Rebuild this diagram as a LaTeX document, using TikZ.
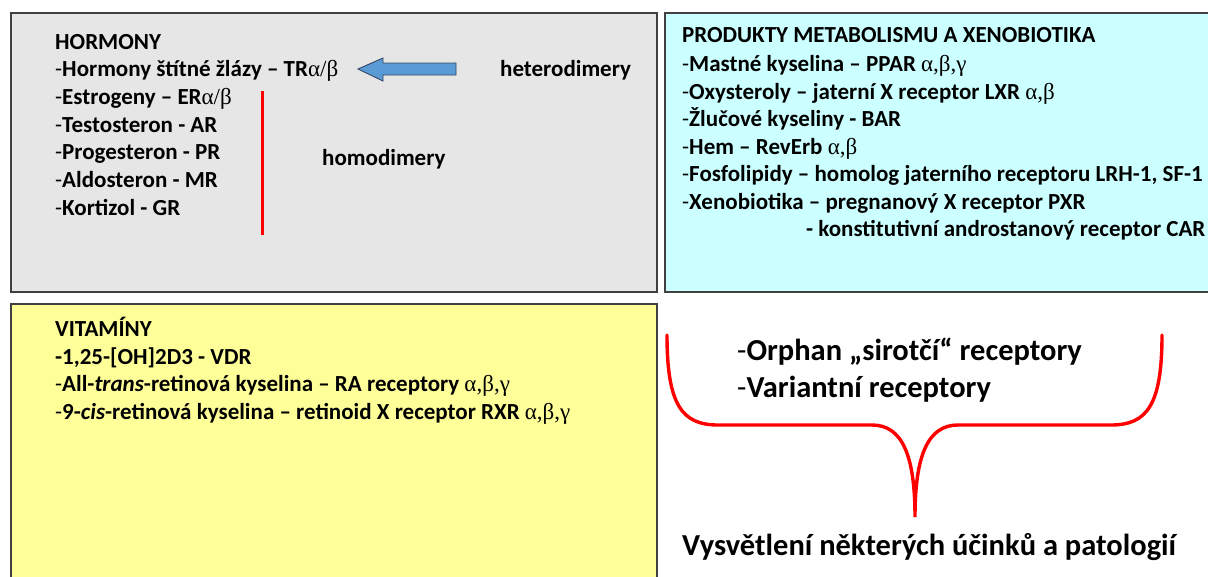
\documentclass[tikz,border=0pt]{standalone}
\usepackage{fontspec}
\setmainfont{Carlito}
\newfontfamily\greekfont{Liberation Serif}
\newcommand{\gr}[1]{{\greekfont\mdseries #1}}
\newcommand{\itemhy}{\textmd{-}}

\definecolor{hormgray}{RGB}{230,230,230}
\definecolor{metacyan}{RGB}{204,255,255}
\definecolor{vityellow}{RGB}{255,255,153}
\definecolor{arrowblue}{RGB}{91,155,213}
\definecolor{arrowedge}{RGB}{50,70,100}

\tikzset{
  txt/.style={anchor=base west, inner sep=0pt, font=\fontsize{23}{27}\selectfont\bfseries},
  bigtxt/.style={anchor=base west, inner sep=0pt, font=\fontsize{30.5}{35}\selectfont\bfseries},
  panel/.style={draw=black!75, line width=1.3pt},
  redline/.style={draw=red, line width=3pt},
}

\begin{document}
\begin{tikzpicture}[x=1pt, y=-1pt]
    \useasboundingbox (0,0) rectangle (1208,576);

    % Panels
    \filldraw[panel, fill=hormgray] (11,13) rectangle (657,292);
    \filldraw[panel, fill=metacyan] (665,13) rectangle (1214,292);
    \filldraw[panel, fill=vityellow] (11,304) rectangle (657,582);

    % Hormony
    \node[txt] (horm) at (55,49) {HORMONY};
    \node[txt] (tr) at (55,76.7) {\itemhy Hormony štítné žlázy – TR\gr{α/β}};
    \node[txt] (er) at (55,104.3) {\itemhy Estrogeny – ER\gr{α/β}};
    \node[txt] (ar) at (55,132) {\itemhy Testosteron - AR};
    \node[txt] (pr) at (55,159.7) {\itemhy Progesteron - PR};
    \node[txt] (mr) at (55,187.3) {\itemhy Aldosteron - MR};
    \node[txt] (gr) at (55,215) {\itemhy Kortizol - GR};

    \node[txt] (hetero) at (500,76) {heterodimery};
    \node[txt] (homo) at (322,165.7) {homodimery};

    \filldraw[fill=arrowblue, draw=arrowedge, line width=0.9pt]
        (358,69) -- (383,58) -- (383,63) -- (456,63) -- (456,75)
        -- (383,75) -- (383,81) -- cycle;

    \coordinate (homotop) at (262,91);
    \coordinate (homobot) at (262,235);
    \draw[redline] (homotop) -- (homobot);

    % Produkty metabolismu
    \node[txt] (meta) at (682,42.7) {PRODUKTY METABOLISMU A XENOBIOTIKA};
    \node[txt] (ppar) at (682,71) {\itemhy Mastné kyselina – PPAR \gr{α,β,γ}};
    \node[txt] (lxr) at (682,99) {\itemhy Oxysteroly – jaterní X receptor LXR \gr{α,β}};
    \node[txt] (bar) at (682,126.7) {\itemhy Žlučové kyseliny - BAR};
    \node[txt] (reverb) at (682,154) {\itemhy Hem – RevErb \gr{α,β}};
    \node[txt] (lrh) at (682,181.7) {\itemhy Fosfolipidy – homolog jaterního receptoru LRH-1, SF-1};
    \node[txt] (pxr) at (682,209.3) {\itemhy Xenobiotika – pregnanový X receptor PXR};
    \node[txt] (car) at (806,236.7) {- konstitutivní androstanový receptor CAR};

    % Vitaminy
    \node[txt] (vit) at (55,336.7) {VITAMÍNY};
    \node[txt] (vdr) at (55,364) {-1,25-[OH]2D3 - VDR};
    \node[txt] (rar) at (55,391.7) {\itemhy All-\textit{trans}-retinová kyselina – RA receptory \gr{α,β,γ}};
    \node[txt] (rxr) at (55,419.3) {\itemhy 9-\textit{cis}-retinová kyselina – retinoid X receptor RXR \gr{α,β,γ}};

    % Orphan receptory
    \node[bigtxt] (orphan) at (737,360.7) {\itemhy Orphan „sirotčí“ receptory};
    \node[bigtxt] (variant) at (737,397.3) {\itemhy Variantní receptory};
    \node[bigtxt] (vysv) at (682,555.7) {Vysvětlení některých účinků a patologií};

    \coordinate (bl) at (667,335);
    \coordinate (br) at (1162,335);
    \coordinate (tip) at (915,517);
    \draw[redline, line width=3.4pt, line cap=round]
        (bl) .. controls (667,405) and (682,425) .. (718,425)
        -- (872,425) .. controls (902,425) and (915,455) .. (tip)
        .. controls (915,455) and (928,425) .. (958,425)
        -- (1111,425) .. controls (1147,425) and (1162,405) .. (br);
\end{tikzpicture}
\end{document}
